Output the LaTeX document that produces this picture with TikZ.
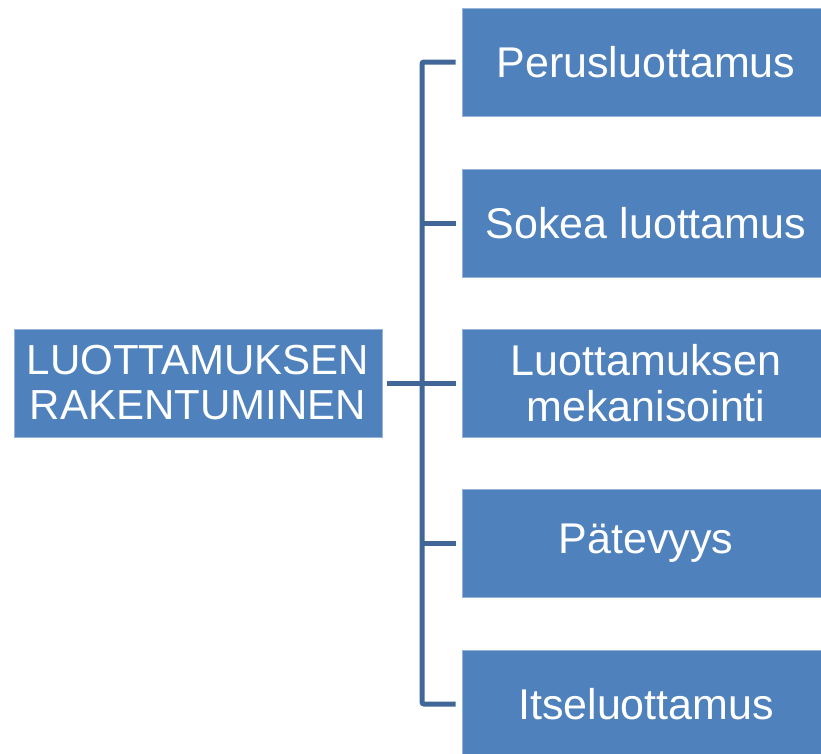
\documentclass[tikz,border=0pt]{standalone}
\usepackage{fontspec}
\setmainfont{Liberation Sans}
\definecolor{boxfill}{RGB}{79,129,189}
\definecolor{boxedge}{RGB}{150,180,215}
\definecolor{linec}{RGB}{64,103,152}
\begin{document}
\begin{tikzpicture}[x=1pt,y=-1pt,
  box/.style={rectangle,fill=boxfill,draw=boxedge,line width=0.8pt,minimum width=368pt,minimum height=108pt,inner sep=0pt,text=white,align=center},
  rtext/.style={font=\fontsize{43}{46}\selectfont},
  ltext/.style={font=\fontsize{42}{45}\selectfont},
  conn/.style={draw=linec,line width=5pt,rounded corners=2pt}]
\useasboundingbox (0,0) rectangle (821,753);
\clip (0,0) rectangle (821,753);
\node[box,ltext] (root) at (198,383) {LUOTTAMUKSEN\\RAKENTUMINEN};
\node[box,rtext] (r1) at (646,62) {Perusluottamus};
\node[box,rtext] (r2) at (646,223) {Sokea luottamus};
\node[box,rtext] (r3) at (646,383) {Luottamuksen\\mekanisointi};
\node[box,rtext] (r4) at (646,543) {Pätevyys};
\node[box,rtext] (r5) at (646,704) {Itseluottamus};
\coordinate (top) at (422,62);
\coordinate (bot) at (422,704);
\draw[conn,shorten <=6pt,shorten >=6pt] (r1.west) -- (top) -- (bot) -- (r5.west);
\draw[conn,shorten <=6pt] (r2.west) -- (r2.west -| top);
\draw[conn,shorten <=6pt] (r4.west) -- (r4.west -| top);
\draw[conn,shorten <=5pt,shorten >=6pt] (root.east) -- (r3.west);
\end{tikzpicture}
\end{document}
